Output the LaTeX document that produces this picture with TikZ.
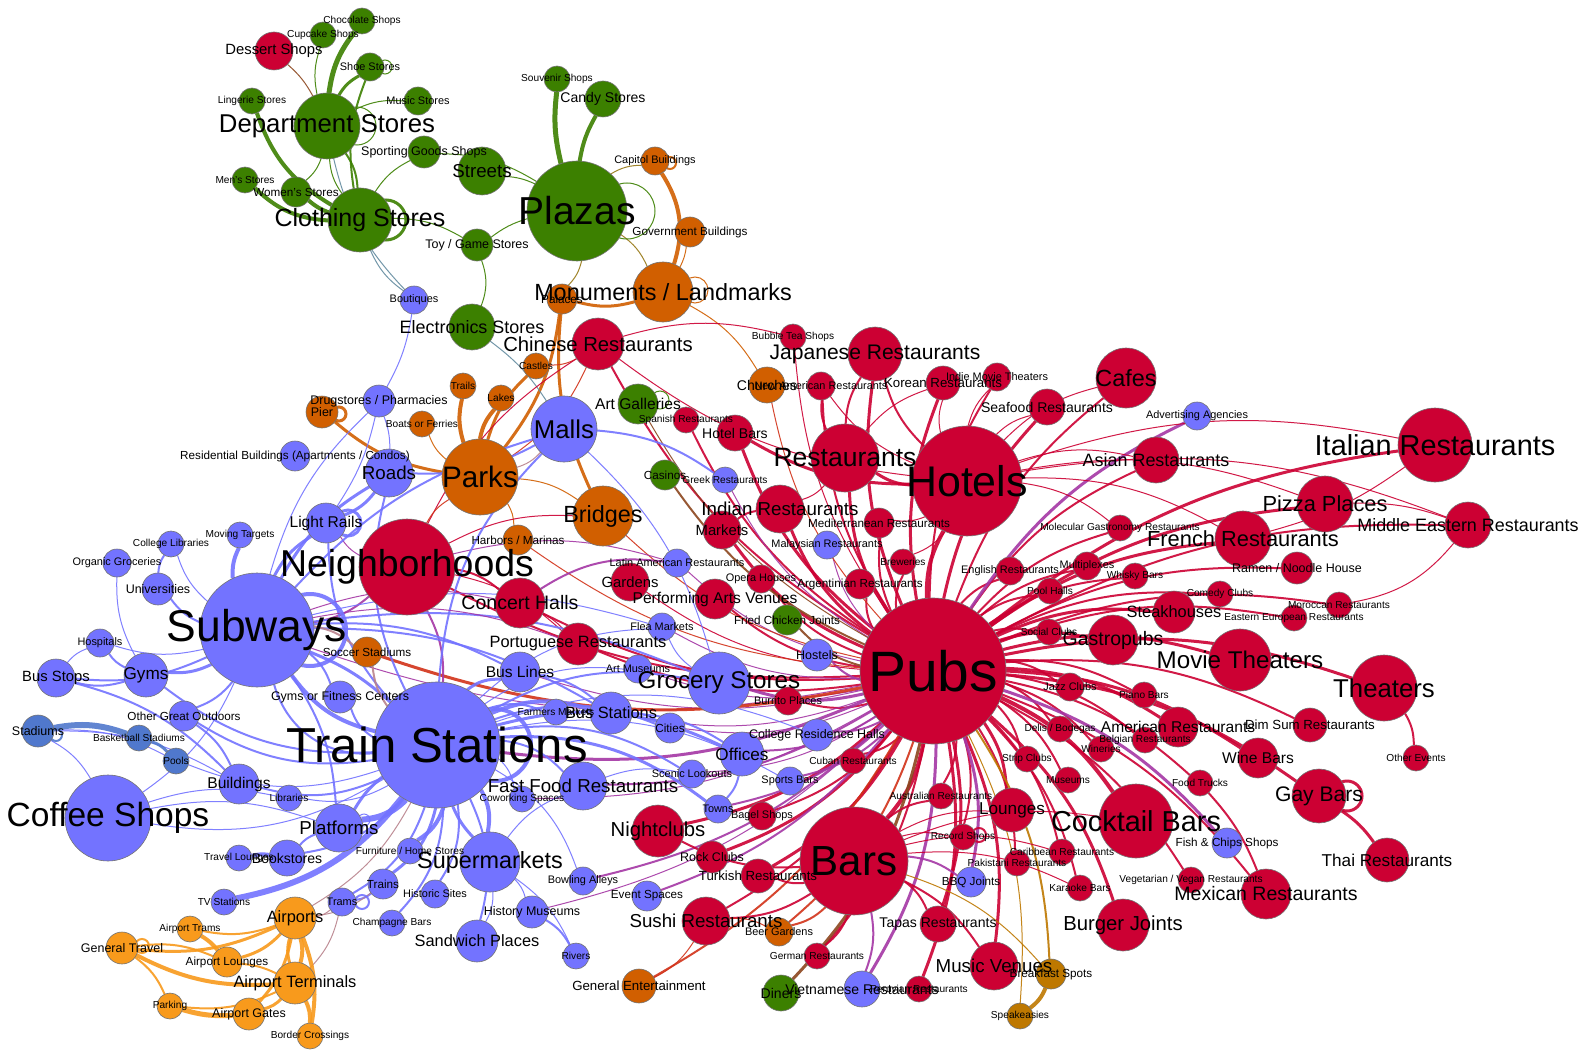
\documentclass[tikz,border=0pt]{standalone}
\usepackage{fontspec}
\setmainfont{Liberation Sans}
\definecolor{cR}{RGB}{204,0,51}
\definecolor{cG}{RGB}{60,128,0}
\definecolor{cO}{RGB}{209,95,0}
\definecolor{cB}{RGB}{115,115,255}
\definecolor{cLO}{RGB}{248,154,28}
\definecolor{cSB}{RGB}{80,120,205}
\definecolor{cBR}{RGB}{190,120,0}
\definecolor{eP}{RGB}{165,55,165}
\definecolor{eRO}{RGB}{210,50,25}
\definecolor{eRG}{RGB}{140,70,30}
\definecolor{eGO}{RGB}{150,120,20}
\definecolor{eBG}{RGB}{100,140,160}
\definecolor{eBO}{RGB}{185,130,140}
\pgfdeclarelayer{bgl}
\pgfdeclarelayer{edges}
\pgfdeclarelayer{labels}
\pgfsetlayers{bgl,edges,main,labels}
\tikzset{
  vnode/.style={circle,draw=black!55,line width=0.3pt,inner sep=0pt,outer sep=0pt},
  vlab/.style={inner sep=0pt,outer sep=0pt,text=black},
}
\newcommand\gnode[6]{%
  \pgfmathsetmacro\gfs{0.39*#4}%
  \node[vnode,fill=#5,minimum size=#4pt] (#1) at (#2,#3) {};%
  \begin{pgfonlayer}{labels}\node[vlab,font=\fontsize{\gfs pt}{\gfs pt}\selectfont] (#1t) at (#2,#3) {#6};\end{pgfonlayer}%
}
\newcommand\gedges[4]{%
  \begin{pgfonlayer}{edges}%
  \foreach \t/\w in {#4} {\draw[draw=#2,line width=\w pt,opacity=0.9] (#1) to[bend left=#3] (\t);}%
  \end{pgfonlayer}%
}
\newcommand\gloop[6]{%
  \begin{pgfonlayer}{edges}\draw[draw=#5,line width=#6pt,opacity=0.9] (#1.center) ++(#2,#3) circle[radius=#4];\end{pgfonlayer}%
}
\begin{document}
\begin{tikzpicture}[x=0.5pt,y=-0.5pt]
\begin{pgfonlayer}{bgl}
\path[use as bounding box,fill=white] (0,0) rectangle (1594,1059);
\end{pgfonlayer}
% ---------- nodes ----------
\gnode{dessert}{274}{51}{19}{cR}{Dessert Shops}
\gnode{choc}{362}{21}{13}{cG}{Chocolate Shops}
\gnode{cupcake}{323}{35}{13}{cG}{Cupcake Shops}
\gnode{shoe}{370}{67}{14}{cG}{Shoe Stores}
\gnode{lingerie}{252}{101}{13}{cG}{Lingerie Stores}
\gnode{music}{418}{101}{14}{cG}{Music Stores}
\gnode{dept}{327}{126}{33}{cG}{Department Stores}
\gnode{sporting}{424}{152}{16}{cG}{Sporting Goods Shops}
\gnode{men}{245}{180}{13}{cG}{Men's Stores}
\gnode{women}{296}{192}{15}{cG}{Women's Stores}
\gnode{cloth}{360}{220}{32}{cG}{Clothing Stores}
\gnode{streets}{482}{171}{24}{cG}{Streets}
\gnode{souvenir}{557}{79}{13}{cG}{Souvenir Shops}
\gnode{candy}{603}{99}{18}{cG}{Candy Stores}
\gnode{plazas}{577}{211}{50}{cG}{Plazas}
\gnode{toy}{477}{245}{16}{cG}{Toy / Game Stores}
\gnode{electronics}{472}{327}{23}{cG}{Electronics Stores}
\gnode{boutiques}{414}{300}{14}{cB}{Boutiques}
\gnode{capitol}{655}{161}{14}{cO}{Capitol Buildings}
\gnode{gov}{690}{232}{15}{cO}{Government Buildings}
\gnode{monuments}{663}{292}{30}{cO}{Monuments / Landmarks}
\gnode{palaces}{562}{299}{15}{cO}{Palaces}
\gnode{chinese}{598}{344}{26}{cR}{Chinese Restaurants}
\gnode{bubble}{793}{337}{13}{cR}{Bubble Tea Shops}
\gnode{castles}{536}{366}{13}{cO}{Castles}
\gnode{trails}{463}{386}{13}{cO}{Trails}
\gnode{lakes}{501}{398}{13}{cO}{Lakes}
\gnode{boats}{422}{424}{13}{cO}{Boats or Ferries}
\gnode{pier}{322}{412}{16}{cO}{Pier}
\gnode{drug}{379}{401}{16}{cB}{Drugstores / Pharmacies}
\gnode{residential}{295}{456}{15}{cB}{Residential Buildings (Apartments / Condos)}
\gnode{roads}{389}{473}{24}{cB}{Roads}
\gnode{parks}{480}{477}{38}{cO}{Parks}
\gnode{malls}{564}{429}{33}{cB}{Malls}
\gnode{artgal}{638}{404}{20}{cG}{Art Galleries}
\gnode{spanish}{686}{420}{13}{cR}{Spanish Restaurants}
\gnode{hotelbars}{735}{433}{18}{cR}{Hotel Bars}
\gnode{churches}{767}{385}{18}{cO}{Churches}
\gnode{newam}{821}{386}{14}{cR}{New American Restaurants}
\gnode{japanese}{875}{354}{27}{cR}{Japanese Restaurants}
\gnode{korean}{943}{383}{17}{cR}{Korean Restaurants}
\gnode{indie}{997}{377}{14}{cR}{Indie Movie Theaters}
\gnode{cafes}{1126}{378}{30}{cR}{Cafes}
\gnode{seafood}{1047}{407}{18}{cR}{Seafood Restaurants}
\gnode{advert}{1197}{416}{14}{cB}{Advertising Agencies}
\gnode{restaurants}{845}{458}{34}{cR}{Restaurants}
\gnode{hotels}{967}{481}{55}{cR}{Hotels}
\gnode{asian}{1156}{460}{23}{cR}{Asian Restaurants}
\gnode{italian}{1435}{445}{37}{cR}{Italian Restaurants}
\gnode{pizza}{1325}{504}{28}{cR}{Pizza Places}
\gnode{middle}{1468}{525}{23}{cR}{Middle Eastern Restaurants}
\gnode{french}{1243}{539}{28}{cR}{French Restaurants}
\gnode{molecular}{1120}{528}{13}{cR}{Molecular Gastronomy Restaurants}
\gnode{ramen}{1297}{568}{16}{cR}{Ramen / Noodle House}
\gnode{casinos}{665}{475}{15}{cG}{Casinos}
\gnode{greek}{725}{480}{13}{cB}{Greek Restaurants}
\gnode{bridges}{603}{516}{30}{cO}{Bridges}
\gnode{indian}{780}{509}{24}{cR}{Indian Restaurants}
\gnode{markets}{722}{530}{19}{cR}{Markets}
\gnode{mediterr}{879}{523}{15}{cR}{Mediterranean Restaurants}
\gnode{malaysian}{827}{545}{14}{cB}{Malaysian Restaurants}
\gnode{breweries}{903}{562}{13}{cR}{Breweries}
\gnode{argentin}{860}{584}{15}{cR}{Argentinian Restaurants}
\gnode{english}{1010}{571}{14}{cR}{English Restaurants}
\gnode{multiplex}{1087}{566}{14}{cR}{Multiplexes}
\gnode{whisky}{1135}{576}{13}{cR}{Whisky Bars}
\gnode{poolhalls}{1050}{591}{13}{cR}{Pool Halls}
\gnode{comedy}{1220}{594}{13}{cR}{Comedy Clubs}
\gnode{moroccan}{1339}{605}{13}{cR}{Moroccan Restaurants}
\gnode{easteu}{1294}{618}{13}{cR}{Eastern European Restaurants}
\gnode{steak}{1174}{612}{21}{cR}{Steakhouses}
\gnode{social}{1049}{632}{13}{cR}{Social Clubs}
\gnode{gastro}{1113}{640}{25}{cR}{Gastropubs}
\gnode{movie}{1240}{660}{31}{cR}{Movie Theaters}
\gnode{theaters}{1384}{688}{33}{cR}{Theaters}
\gnode{jazz}{1070}{687}{14}{cR}{Jazz Clubs}
\gnode{piano}{1144}{695}{13}{cR}{Piano Bars}
\gnode{pubs}{933}{671}{73}{cR}{Pubs}
\gnode{hostels}{817}{655}{16}{cB}{Hostels}
\gnode{harbors}{518}{540}{15}{cO}{Harbors / Marinas}
\gnode{latin}{677}{563}{14}{cB}{Latin American Restaurants}
\gnode{gardens}{630}{582}{19}{cR}{Gardens}
\gnode{opera}{761}{579}{14}{cR}{Opera Houses}
\gnode{perfarts}{715}{599}{20}{cR}{Performing Arts Venues}
\gnode{friedchk}{787}{620}{15}{cG}{Fried Chicken Joints}
\gnode{concert}{520}{603}{25}{cR}{Concert Halls}
\gnode{neigh}{407}{567}{48}{cR}{Neighborhoods}
\gnode{flea}{662}{627}{14}{cB}{Flea Markets}
\gnode{portug}{578}{644}{21}{cR}{Portuguese Restaurants}
\gnode{buslines}{520}{672}{20}{cB}{Bus Lines}
\gnode{artmus}{638}{669}{14}{cB}{Art Museums}
\gnode{grocery}{719}{683}{31}{cB}{Grocery Stores}
\gnode{burrito}{788}{701}{14}{cR}{Burrito Places}
\gnode{lightrails}{326}{523}{20}{cB}{Light Rails}
\gnode{moving}{240}{535}{13}{cB}{Moving Targets}
\gnode{collegelib}{171}{544}{13}{cB}{College Libraries}
\gnode{organic}{117}{563}{14}{cB}{Organic Groceries}
\gnode{univ}{158}{589}{16}{cB}{Universities}
\gnode{subways}{257}{630}{57}{cB}{Subways}
\gnode{hospitals}{100}{643}{14}{cB}{Hospitals}
\gnode{gyms}{146}{675}{22}{cB}{Gyms}
\gnode{busstops}{56}{678}{19}{cB}{Bus Stops}
\gnode{soccer}{367}{652}{15}{cO}{Soccer Stadiums}
\gnode{gymsfit}{340}{697}{16}{cB}{Gyms or Fitness Centers}
\gnode{outdoors}{184}{716}{15}{cB}{Other Great Outdoors}
\gnode{stadiums}{38}{731}{16}{cSB}{Stadiums}
\gnode{basket}{139}{738}{13}{cSB}{Basketball Stadiums}
\gnode{pools}{176}{761}{13}{cSB}{Pools}
\gnode{buildings}{239}{784}{20}{cB}{Buildings}
\gnode{libraries}{289}{798}{13}{cB}{Libraries}
\gnode{coffee}{108}{818}{43}{cB}{Coffee Shops}
\gnode{platforms}{339}{828}{24}{cB}{Platforms}
\gnode{travell}{239}{858}{13}{cB}{Travel Lounges}
\gnode{bookstores}{287}{858}{18}{cB}{Bookstores}
\gnode{furniture}{410}{851}{13}{cB}{Furniture / Home Stores}
\gnode{trains}{383}{884}{15}{cB}{Trains}
\gnode{trams}{342}{902}{14}{cB}{Trams}
\gnode{tvst}{224}{902}{13}{cB}{TV Stations}
\gnode{champagne}{392}{923}{13}{cB}{Champagne Bars}
\gnode{train}{437}{745}{63}{cB}{Train Stations}
\gnode{farmers}{556}{712}{13}{cB}{Farmers Markets}
\gnode{busstations}{611}{713}{21}{cB}{Bus Stations}
\gnode{cities}{670}{728}{15}{cB}{Cities}
\gnode{collres}{817}{735}{16}{cB}{College Residence Halls}
\gnode{offices}{742}{754}{22}{cB}{Offices}
\gnode{cuban}{853}{761}{13}{cR}{Cuban Restaurants}
\gnode{scenic}{692}{774}{14}{cB}{Scenic Lookouts}
\gnode{sportsbars}{790}{781}{14}{cB}{Sports Bars}
\gnode{fastfood}{583}{786}{24}{cB}{Fast Food Restaurants}
\gnode{coworking}{522}{799}{13}{cB}{Coworking Spaces}
\gnode{towns}{718}{809}{14}{cB}{Towns}
\gnode{bagel}{762}{816}{14}{cR}{Bagel Shops}
\gnode{nightclubs}{658}{831}{26}{cR}{Nightclubs}
\gnode{rockclubs}{712}{857}{16}{cR}{Rock Clubs}
\gnode{turkish}{758}{876}{17}{cR}{Turkish Restaurants}
\gnode{supermkt}{490}{862}{30}{cB}{Supermarkets}
\gnode{historic}{435}{894}{14}{cB}{Historic Sites}
\gnode{bowling}{583}{881}{14}{cB}{Bowling Alleys}
\gnode{eventsp}{647}{896}{15}{cB}{Event Spaces}
\gnode{histmus}{532}{912}{16}{cB}{History Museums}
\gnode{sandwich}{477}{941}{21}{cB}{Sandwich Places}
\gnode{rivers}{576}{956}{13}{cB}{Rivers}
\gnode{sushi}{706}{921}{24}{cR}{Sushi Restaurants}
\gnode{beergard}{779}{932}{14}{cO}{Beer Gardens}
\gnode{genent}{639}{986}{17}{cO}{General Entertainment}
\gnode{diners}{781}{993}{18}{cG}{Diners}
\gnode{german}{817}{956}{13}{cR}{German Restaurants}
\gnode{vietnam}{862}{989}{18}{cB}{Vietnamese Restaurants}
\gnode{xrest}{919}{989}{13}{cR}{Peruvian Restaurants}
\gnode{bars}{854}{861}{54}{cR}{Bars}
\gnode{australian}{941}{796}{13}{cR}{Australian Restaurants}
\gnode{record}{963}{837}{13}{cR}{Record Shops}
\gnode{tapas}{938}{924}{18}{cR}{Tapas Restaurants}
\gnode{bbq}{971}{882}{15}{cB}{BBQ Joints}
\gnode{pakistani}{1017}{863}{13}{cR}{Pakistani Restaurants}
\gnode{caribbean}{1062}{852}{13}{cR}{Caribbean Restaurants}
\gnode{karaoke}{1080}{888}{13}{cR}{Karaoke Bars}
\gnode{lounges}{1012}{810}{22}{cR}{Lounges}
\gnode{musicven}{994}{966}{24}{cR}{Music Venues}
\gnode{breakfast}{1051}{974}{15}{cBR}{Breakfast Spots}
\gnode{speak}{1020}{1016}{13}{cBR}{Speakeasies}
\gnode{burger}{1123}{925}{26}{cR}{Burger Joints}
\gnode{delis}{1060}{729}{13}{cR}{Delis / Bodegas}
\gnode{wineries}{1101}{749}{13}{cR}{Wineries}
\gnode{belgian}{1145}{740}{13}{cR}{Belgian Restaurants}
\gnode{strip}{1027}{759}{13}{cR}{Strip Clubs}
\gnode{museums}{1068}{780}{13}{cR}{Museums}
\gnode{cocktail}{1136}{821}{37}{cR}{Cocktail Bars}
\gnode{american}{1178}{727}{20}{cR}{American Restaurants}
\gnode{dimsum}{1310}{725}{17}{cR}{Dim Sum Restaurants}
\gnode{winebars}{1258}{758}{20}{cR}{Wine Bars}
\gnode{otherev}{1416}{758}{13}{cR}{Other Events}
\gnode{foodtrucks}{1200}{783}{13}{cR}{Food Trucks}
\gnode{gaybars}{1319}{796}{27}{cR}{Gay Bars}
\gnode{fishchips}{1227}{843}{15}{cB}{Fish \& Chips Shops}
\gnode{thai}{1387}{860}{22}{cR}{Thai Restaurants}
\gnode{vegetarian}{1191}{880}{13}{cR}{Vegetarian / Vegan Restaurants}
\gnode{mexican}{1266}{894}{25}{cR}{Mexican Restaurants}
\gnode{airports}{295}{918}{21}{cLO}{Airports}
\gnode{airtrams}{190}{929}{13}{cLO}{Airport Trams}
\gnode{gentravel}{122}{948}{16}{cLO}{General Travel}
\gnode{airlounges}{227}{962}{15}{cLO}{Airport Lounges}
\gnode{terminals}{295}{983}{21}{cLO}{Airport Terminals}
\gnode{parking}{170}{1006}{13}{cLO}{Parking}
\gnode{gates}{249}{1014}{16}{cLO}{Airport Gates}
\gnode{border}{310}{1036}{13}{cLO}{Border Crossings}
% ---------- edges ----------
% green / orange cluster
\gedges{dept}{cG}{15}{choc/2.5,cupcake/0.5,shoe/1.5,music/0.5,women/0.5,cloth/1}
\gedges{dept}{cG}{-15}{cloth/0.5}
\gedges{lingerie}{cG}{-20}{cloth/2}
\gedges{men}{cG}{-20}{cloth/2}
\gedges{women}{cG}{-10}{cloth/2}
\gedges{dessert}{eRG}{10}{dept/0.5}
\gedges{cloth}{cG}{15}{sporting/0.5,toy/0.5,shoe/1}
\gedges{sporting}{cG}{15}{plazas/0.5}
\gedges{streets}{cG}{10}{plazas/0.5}
\gedges{plazas}{cG}{10}{souvenir/2.5,candy/2}
\gedges{toy}{cG}{10}{plazas/0.5}
\gedges{toy}{cG}{20}{electronics/0.5}
\gedges{boutiques}{eBG}{15}{cloth/0.5,dept/0.5}
\gedges{plazas}{eGO}{15}{capitol/0.5,monuments/0.5,palaces/0.5}
\gedges{capitol}{cO}{25}{monuments/2}
\gedges{gov}{cO}{10}{monuments/0.5}
\gedges{monuments}{cO}{15}{palaces/1.5,churches/0.5}
\gedges{palaces}{cO}{15}{parks/1.5}
\gedges{palaces}{cO}{-15}{bridges/1.5}
\gedges{parks}{cO}{15}{castles/1.5,trails/2,lakes/2,boats/0.5,pier/1.5,bridges/0.5,harbors/0.5}
\gedges{electronics}{eBG}{10}{malls/0.5}
\gedges{chinese}{eRO}{15}{parks/0.5,castles/0.5}
\gedges{chinese}{cR}{15}{bubble/0.5}
% Pubs hub
\gedges{pubs}{cR}{15}{hotels/2,restaurants/1.5,japanese/1.5,korean/1.5,indie/1,seafood/1.5,cafes/1,asian/1,italian/1.5,pizza/1.5,french/1.5,middle/1,molecular/1,ramen/1,english/1,multiplex/1,whisky/1,poolhalls/1,comedy/1,moroccan/1,easteu/1,steak/1.5,social/1,gastro/1.5,movie/1.5,theaters/1.5,jazz/1,piano/1,dimsum/1,american/1.5,winebars/1.5,gaybars/1.5,delis/1,belgian/1,wineries/1,strip/1,museums/1,foodtrucks/1,cocktail/2,lounges/1.5,australian/1,record/1,caribbean/1,pakistani/1,karaoke/1,vegetarian/1,mexican/1,burger/1.5,bars/2,tapas/1.5,musicven/1.5,xrest/1.5,turkish/1.5,rockclubs/1.5,bagel/1,nightclubs/1.5,sushi/1,cuban/1,hotelbars/1.5,indian/1.5,markets/1.5,mediterr/1,breweries/1,argentin/1,newam/1,spanish/1,chinese/1,opera/1,perfarts/1,gardens/0.5,concert/1,neigh/1,portug/1,burrito/1,bubble/0.5,german/1}
\gedges{pubs}{eP}{15}{advert/1.5,hostels/1,grocery/1.5,bbq/1.5,vietnam/1.5,fishchips/1.5,offices/1,collres/1,sportsbars/1,cities/0.5,busstations/0.5,towns/1,scenic/0.5,eventsp/1,bowling/1,histmus/0.5,fastfood/1,coworking/0.5,train/1.5,latin/0.5,malaysian/0.5,greek/0.5,flea/0.5,artmus/0.5,buslines/0.5,subways/0.5}
\gedges{pubs}{eRO}{15}{soccer/1.5,beergard/1,genent/1,churches/0.5,bridges/0.5,harbors/0.5}
\gedges{pubs}{eRG}{15}{casinos/1,friedchk/1,diners/1.5,artgal/0.5}
\gedges{pubs}{cBR}{15}{breakfast/1,speak/0.5}
% Hotels, Restaurants, Bars
\gedges{hotels}{cR}{15}{restaurants/1.5,japanese/1,korean/0.5,cafes/0.5,seafood/0.5,asian/0.5,italian/0.5,hotelbars/1.5,molecular/0.5,french/0.5,pizza/0.5,middle/0.5,chinese/0.5,mediterr/0.5,breweries/0.5,indie/0.5,newam/0.5}
\gedges{restaurants}{cR}{15}{japanese/1,newam/1,indian/0.5,korean/0.5}
\gedges{bars}{cR}{15}{tapas/1,musicven/1,record/0.5,australian/1,german/1,sushi/1,turkish/1,lounges/0.5,cocktail/0.5,nightclubs/1,karaoke/0.5,caribbean/0.5}
\gedges{bars}{eP}{15}{bbq/1,vietnam/1}
\gedges{bars}{eRO}{15}{beergard/1}
\gedges{bars}{cBR}{15}{breakfast/0.5}
\gedges{gaybars}{cR}{10}{thai/1.5}
\gedges{theaters}{cR}{15}{otherev/1}
\gedges{foodtrucks}{cR}{10}{mexican/1}
\gedges{middle}{cR}{20}{moroccan/0.5}
\gedges{pizza}{cR}{10}{middle/0.5}
\gedges{italian}{cR}{10}{french/0.5}
\gedges{sushi}{eRO}{15}{genent/0.5,beergard/0.5}
\gedges{breakfast}{cBR}{15}{speak/2}
\gedges{concert}{eP}{20}{latin/1}
\gedges{concert}{cR}{10}{portug/0.5}
\gedges{neigh}{cR}{15}{concert/1,bridges/0.5,chinese/0.5,portug/0.5}
\gedges{neigh}{eP}{15}{subways/1,train/1,lightrails/0.5,latin/0.5}
\gedges{neigh}{eRO}{15}{parks/0.5}
\gedges{markets}{cR}{15}{indian/1}
% Train Stations / Subways hub
\gedges{train}{cB}{20}{subways/2,platforms/3,tvst/3,trains/1.5,trams/1,supermkt/2,furniture/2,historic/1,champagne/1,sandwich/1,busstations/2,buslines/1.5,farmers/1,cities/1,offices/1.5,scenic/1,fastfood/1,coworking/0.5,towns/1.5,grocery/1,buildings/1,libraries/0.5,coffee/0.5,bookstores/1,gyms/1,outdoors/1,gymsfit/1,lightrails/1,roads/1,malls/1,pools/0.5,flea/0.5,artmus/0.5,collres/0.5,sportsbars/0.5,bowling/0.5}
\gedges{train}{cB}{-10}{subways/1.5,supermkt/1.5,platforms/1.5}
\gedges{train}{cB}{40}{subways/1}
\gedges{train}{eBO}{15}{airports/0.5,soccer/1}
\gedges{subways}{cB}{15}{lightrails/1.5,roads/1.5,univ/1,moving/2,collegelib/0.5,gyms/1.5,busstops/1,coffee/0.5,hospitals/0.5,malls/1,buslines/1,busstations/1,grocery/1,gymsfit/1,outdoors/1,platforms/1,drug/0.5,flea/0.5}
\gedges{subways}{eP}{15}{concert/0.5,portug/0.5}
\gedges{subways}{eBO}{15}{soccer/1}
\gedges{gyms}{cB}{15}{busstops/1,hospitals/1,organic/0.5}
\gedges{univ}{cB}{15}{collegelib/1}
\gedges{busstops}{cB}{15}{hospitals/0.5,buildings/1}
\gedges{outdoors}{cB}{15}{buildings/1}
\gedges{stadiums}{cB}{15}{pools/0.5,coffee/0.5,buildings/0.5}
\gedges{stadiums}{cSB}{15}{basket/3}
\gedges{basket}{cSB}{15}{pools/1.5}
\gedges{coffee}{cB}{15}{platforms/0.5,libraries/0.5}
\gedges{travell}{cB}{10}{bookstores/2}
\gedges{bookstores}{cB}{15}{platforms/1}
\gedges{trains}{cB}{15}{trams/1}
\gedges{supermkt}{cB}{15}{histmus/0.5,rivers/0.5,fastfood/0.5,sandwich/0.5}
\gedges{histmus}{cB}{15}{rivers/1}
\gedges{busstations}{cB}{15}{cities/1,offices/1}
\gedges{buslines}{cB}{15}{busstations/1}
\gedges{offices}{cB}{15}{towns/1}
\gedges{fastfood}{cB}{15}{scenic/0.5}
\gedges{grocery}{cB}{15}{flea/0.5}
\gedges{malls}{cB}{15}{grocery/0.5,roads/1,greek/1}
\gedges{malls}{eBO}{15}{parks/0.5}
\gedges{drug}{cB}{10}{roads/0.5,lightrails/0.5}
\gedges{boutiques}{cB}{10}{drug/0.5}
\gedges{roads}{cB}{15}{lightrails/1.5}
\gedges{trams}{eBO}{15}{airports/0.5,terminals/0.5}
\gedges{trains}{eBO}{15}{airports/0.5}
% airports
\gedges{airports}{cLO}{15}{airtrams/1,airlounges/1.5,terminals/2,gentravel/1.5,gates/1.5,border/2}
\gedges{airports}{cLO}{-15}{terminals/1.5}
\gedges{terminals}{cLO}{15}{gates/1.5,parking/1,gentravel/2,border/2}
\gedges{gentravel}{cLO}{15}{parking/1,airlounges/1}
\gedges{parking}{cLO}{-10}{gates/2.5}
\gedges{airtrams}{cLO}{10}{airlounges/2}
\gedges{airlounges}{cLO}{10}{terminals/1}
% self loops
\gloop{dept}{30}{0}{19}{cG}{0.5}
\gloop{cloth}{26}{0}{20}{cG}{1.5}
\gloop{shoe}{15}{0}{7}{cG}{0.5}
\gloop{plazas}{50}{0}{28}{cG}{0.5}
\gloop{capitol}{15}{2}{6}{cO}{1}
\gloop{monuments}{32}{-2}{13}{cO}{0.5}
\gloop{artgal}{22}{-4}{9}{cG}{0.5}
\gloop{pier}{17}{2}{7}{cO}{1.5}
\gloop{lightrails}{22}{0}{13}{cB}{1.5}
\gloop{subways}{53}{0}{36}{cB}{2}
\gloop{train}{58}{0}{36}{cB}{2}
\gloop{stadiums}{18}{4}{6}{cSB}{1}
\gloop{trams}{20}{0}{7}{cB}{1}
\gloop{gentravel}{20}{-2}{7}{cLO}{1}
\gloop{record}{16}{-2}{7}{cR}{1}
\gloop{gaybars}{28}{0}{15}{cR}{1.5}
\gloop{platforms}{25}{-8}{6}{cB}{0.5}
\end{tikzpicture}
\end{document}
